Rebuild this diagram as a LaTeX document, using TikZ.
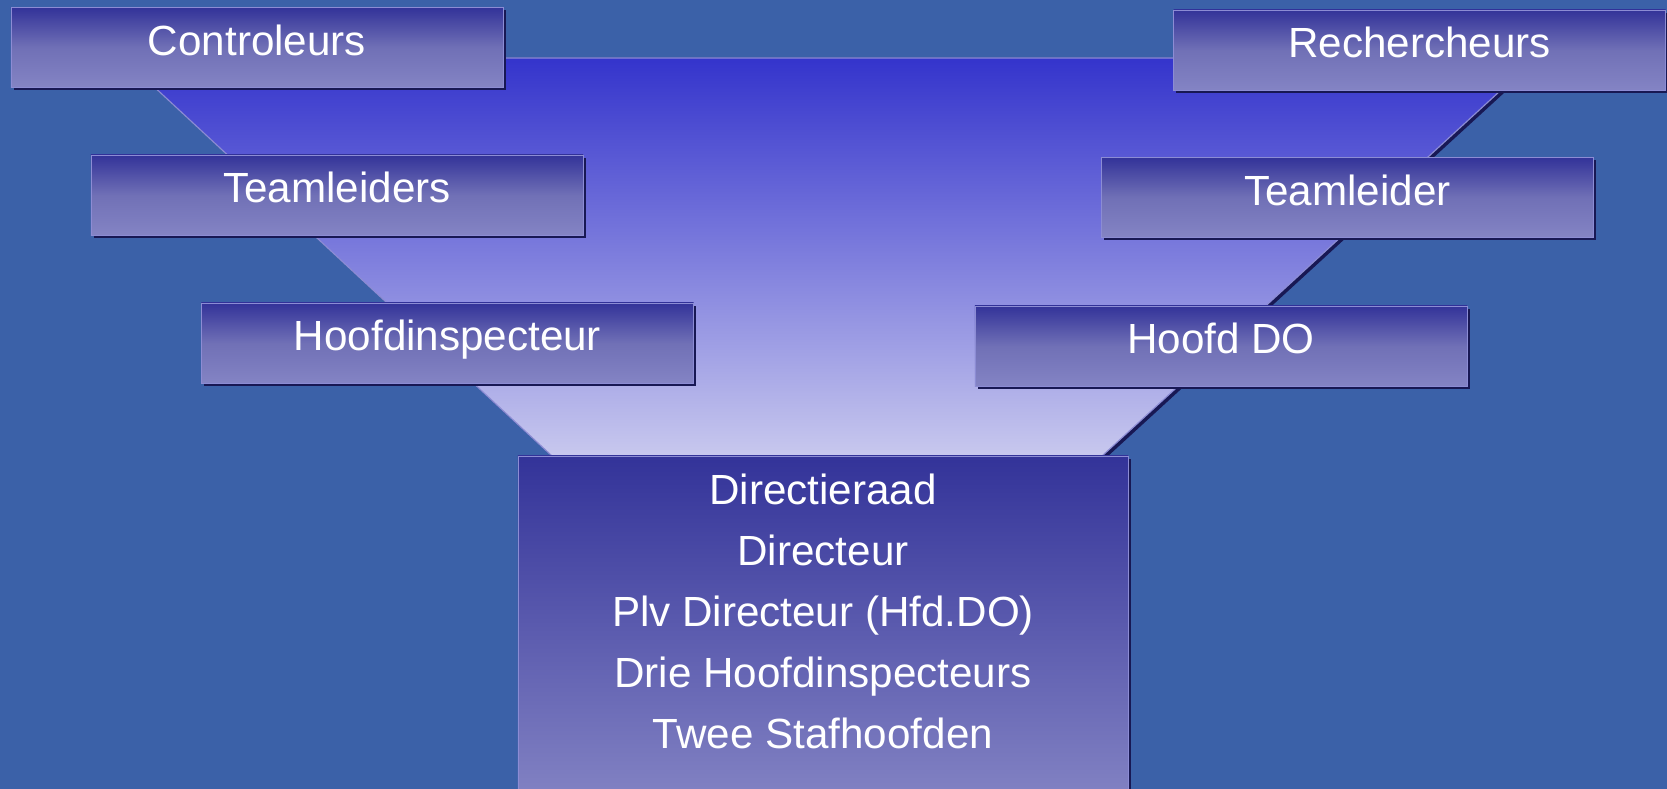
\documentclass[tikz,border=0pt]{standalone}
\usepackage{fontspec}
\setmainfont{Liberation Sans}
\usetikzlibrary{positioning,shadows}
\definecolor{bgblue}{RGB}{59,97,168}
\definecolor{fnltop}{RGB}{52,52,204}
\definecolor{fnlbot}{RGB}{200,200,238}
\definecolor{boxtop}{RGB}{51,51,153}
\definecolor{boxmid}{RGB}{112,112,182}
\definecolor{boxbot}{RGB}{132,132,196}
\definecolor{boxedge}{RGB}{140,140,212}
\definecolor{boxshadow}{RGB}{24,24,84}

\begin{document}
\begin{tikzpicture}[
  x=0.03cm,y=-0.03cm,
  every node/.style={font=\fontsize{36}{52}\selectfont,text=white},
  shd/.style={general shadow={fill=boxshadow,draw=none,shadow xshift=2.5pt,shadow yshift=-2.5pt}},
  rol/.style={shd,draw=boxedge,line width=0.8pt,top color=boxtop,bottom color=boxbot,middle color=boxmid,
    minimum width=14.76cm,minimum height=2.4cm,text height=25.6pt,text depth=12pt,inner sep=0pt},
  raadbox/.style={shd,draw=boxedge,line width=0.8pt,top color=boxtop,bottom color=boxbot,
    minimum width=18.3cm,minimum height=10.5cm,inner sep=0pt},
  funnel/.style={shd,draw=boxedge,line width=1pt,top color=fnltop,bottom color=fnlbot}
]
\useasboundingbox (0,0) rectangle (1667,789);
\fill[bgblue] (0,0) rectangle (1667,789);

% Funnel
\filldraw[funnel] (123,58) -- (1536,58) -- (1102,456) -- (552,456) -- cycle;

% Left side
\node[rol] (contr) at (257,47.5) {Controleurs};
\node[rol] (teaml) at (337,195) {Teamleiders};
\node[rol] (hoofdi) at (447.5,343) {Hoofdinspecteur};

% Right side
\node[rol] (rech) at (1419.5,50) {Rechercheurs};
\node[rol] (teamr) at (1347.5,197.5) {Teamleider};
\node[rol] (hoofddo) at (1221,346) {Hoofd DO};

% Directieraad
\node[raadbox] (raad) at (823,631) {};
\node[below=0.54cm of raad.north,inner sep=0pt,align=center] (raadtxt)
  {Directieraad\\Directeur\\Plv Directeur (Hfd.DO)\\Drie Hoofdinspecteurs\\Twee Stafhoofden};
\end{tikzpicture}
\end{document}
